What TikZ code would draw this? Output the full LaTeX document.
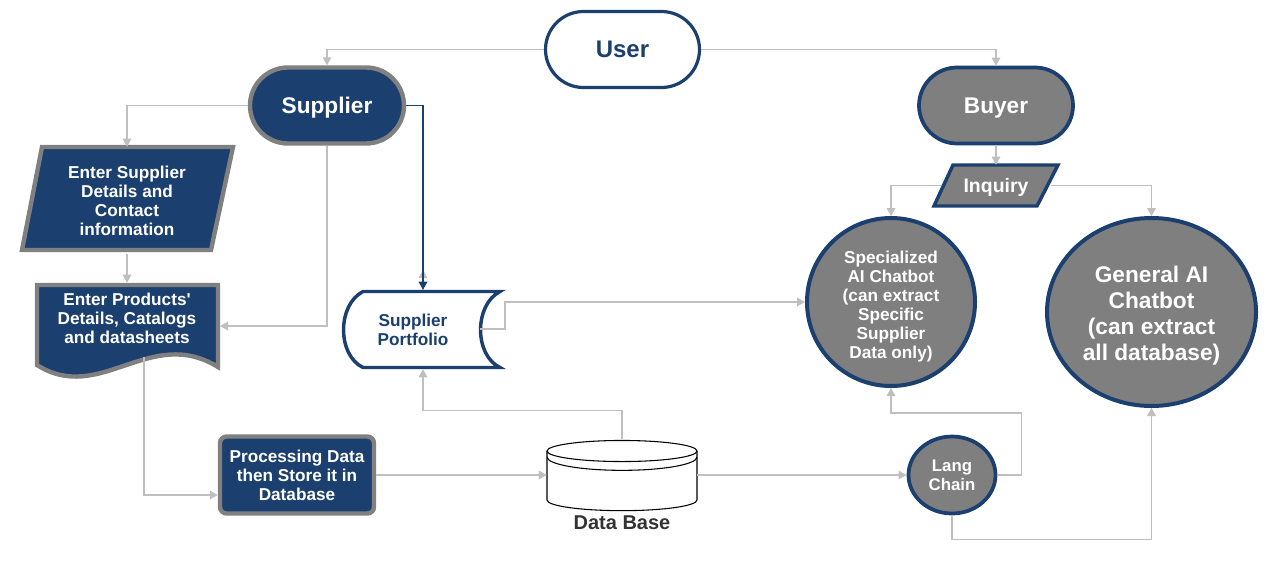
\documentclass[tikz,border=0pt]{standalone}
\usepackage{fontspec}
\setmainfont{Liberation Sans}
\usetikzlibrary{arrows.meta,shapes.geometric,shapes.misc}
\definecolor{navy}{HTML}{1B3F6E}
\definecolor{fillgray}{HTML}{7F7F7F}
\definecolor{edgegray}{HTML}{808080}
\definecolor{linkgray}{HTML}{BFBFBF}
\definecolor{dbtext}{HTML}{333333}
\begin{document}
\begin{tikzpicture}[x=0.75pt,y=-0.75pt,
  conn/.style={draw=linkgray, line width=0.9pt, -{Triangle[length=6pt,width=6.5pt]}},
  navyconn/.style={draw=navy, line width=0.9pt, -{Triangle[length=6pt,width=6.5pt]}},
  term/.style={rounded rectangle, minimum width=154*0.75pt, minimum height=76*0.75pt, inner sep=0pt, text depth=0pt, font=\bfseries\fontsize{17}{20}\selectfont},
  darkbox/.style={fill=navy, draw=edgegray, line width=3.3pt},
  greybox/.style={fill=fillgray, draw=navy, line width=2.8pt},
  txt/.style={align=center, text=white, font=\bfseries\fontsize{12.9}{14.25}\selectfont, inner sep=0pt},
]
\useasboundingbox (0,0) rectangle (1280,575);

% ---- terminals ----
\node[term, fill=white, draw=navy, line width=2.4pt, text=navy, font=\bfseries\fontsize{18}{21}\selectfont] (user) at (622.5,49.5) {User};
\node[term, darkbox, text=white] (sup) at (327,105.5) {Supplier};
\node[term, greybox, text=white] (buy) at (996,105.5) {Buyer};

% ---- supplier details (parallelogram) ----
\draw[darkbox] (42,147) -- (233,147) -- (211,250) -- (22,250) -- cycle;
\node[txt, minimum height=107*0.75pt, minimum width=150*0.75pt] (sdet) at (127,200.5) {Enter Supplier\\Details and\\Contact\\information};

% ---- products (document) ----
\draw[darkbox] (37,285) -- (218,285) -- (218,367) .. controls (150,325) and (100,405) .. (37,365) -- cycle;
\node[txt, minimum height=70*0.75pt, minimum width=185*0.75pt] (prod) at (127,318) {Enter Products\textquotesingle\\Details, Catalogs\\and datasheets};
\coordinate (prodE) at (220,326);
\coordinate (prodB) at (144,357);

% ---- processing ----
\node[txt, darkbox, rounded corners=5pt, minimum width=154*0.75pt, minimum height=77*0.75pt] (proc) at (297,475) {Processing Data\\then Store it in\\Database};

% ---- supplier portfolio ----
\draw[navy, line width=2.6pt, fill=white] (363,291.5) -- (500,291.5) .. controls (474,305) and (474,355) .. (500,367.5) -- (363,367.5) .. controls (337,355) and (337,305) .. (363,291.5) -- cycle;
\node[minimum width=157*0.75pt, minimum height=79*0.75pt, inner sep=0pt] (port) at (423,329.5) {};
\node[txt, text=navy] (porttxt) at (413,330) {Supplier\\Portfolio};
\coordinate (portR) at (480,329);
\coordinate (portup) at (423,270);

% ---- database cylinder ----
\filldraw[fill=white, draw=black, line width=0.8pt] (547,451) -- (547,500) arc[start angle=180, end angle=360, x radius=56.25pt, y radius=8pt] -- (697,451) arc[start angle=0, end angle=180, x radius=56.25pt, y radius=7.9pt] -- cycle;
\draw[black, line width=0.8pt] (547,451) arc[start angle=180, end angle=360, x radius=56.25pt, y radius=7.9pt];
\draw[black, line width=0.8pt] (547,457) arc[start angle=180, end angle=360, x radius=56.25pt, y radius=10pt];
\node[minimum width=150*0.75pt, minimum height=72*0.75pt, inner sep=0pt] (db) at (622,475) {};
\node[text=dbtext, font=\bfseries\fontsize{15}{18}\selectfont] (dblabel) at (622,523) {Data Base};

% ---- buyer side ----
\draw[greybox, line width=2.6pt] (953,165) -- (1058,165) -- (1037,206) -- (934,206) -- cycle;
\node[txt, text depth=0pt, font=\bfseries\fontsize{14.6}{17}\selectfont, minimum width=110*0.75pt, minimum height=41*0.75pt] (inq) at (996,185.5) {Inquiry};

\node[ellipse, greybox, line width=3pt, minimum width=168*0.75pt, minimum height=168*0.75pt, inner sep=0pt] (spec) at (891,302) {};
\node[txt] (spectxt) at (891,307) {Specialized\\AI Chatbot\\(can extract\\Specific\\Supplier\\Data only)};

\node[ellipse, greybox, line width=3pt, minimum width=209*0.75pt, minimum height=188*0.75pt, inner sep=0pt] (gen) at (1151.5,312) {};
\node[txt, font=\bfseries\fontsize{17}{19.5}\selectfont] (gentxt) at (1151.5,316) {General AI\\Chatbot\\(can extract\\all database)};

\node[ellipse, greybox, minimum width=87*0.75pt, minimum height=77*0.75pt, inner sep=0pt, align=center, text=white, font=\bfseries\fontsize{12.6}{14.25}\selectfont] (lc) at (952,475) {Lang\\Chain};

% ---- connectors ----
\draw[conn] (user.west) -| (sup.north);
\draw[conn] (user.east) -| (buy.north);
\draw[conn] (sup.west) -| (sdet.north);
\draw[conn] (sdet.south) -- (prod.north);
\draw[conn] (sup.south) |- (prodE);
\draw[conn] (prodB) |- ([yshift=-15pt]proc.west);
\draw[conn] (port.north) -- (portup);
\draw[navyconn] (sup.east) -| (port.north);
\draw[conn] (proc.east) -- (db.west);
\draw[conn] (db.north) -- ++(0,-28) -| (port.south);
\draw[conn] (portR) -- ++(25,0) |- (spec.west);
\draw[conn] (db.east) -- (lc.west);
\draw[conn] (buy.south) -- (inq.north);
\draw[conn] (inq.west) -| (spec.north);
\draw[conn] (inq.east) -| (gen.north);
\draw[conn] (lc.east) -- ++(24,0) -- ++(0,-62) -| (spec.south);
\draw[conn] (lc.south) -- ++(0,24) -| (gen.south);
\end{tikzpicture}
\end{document}
